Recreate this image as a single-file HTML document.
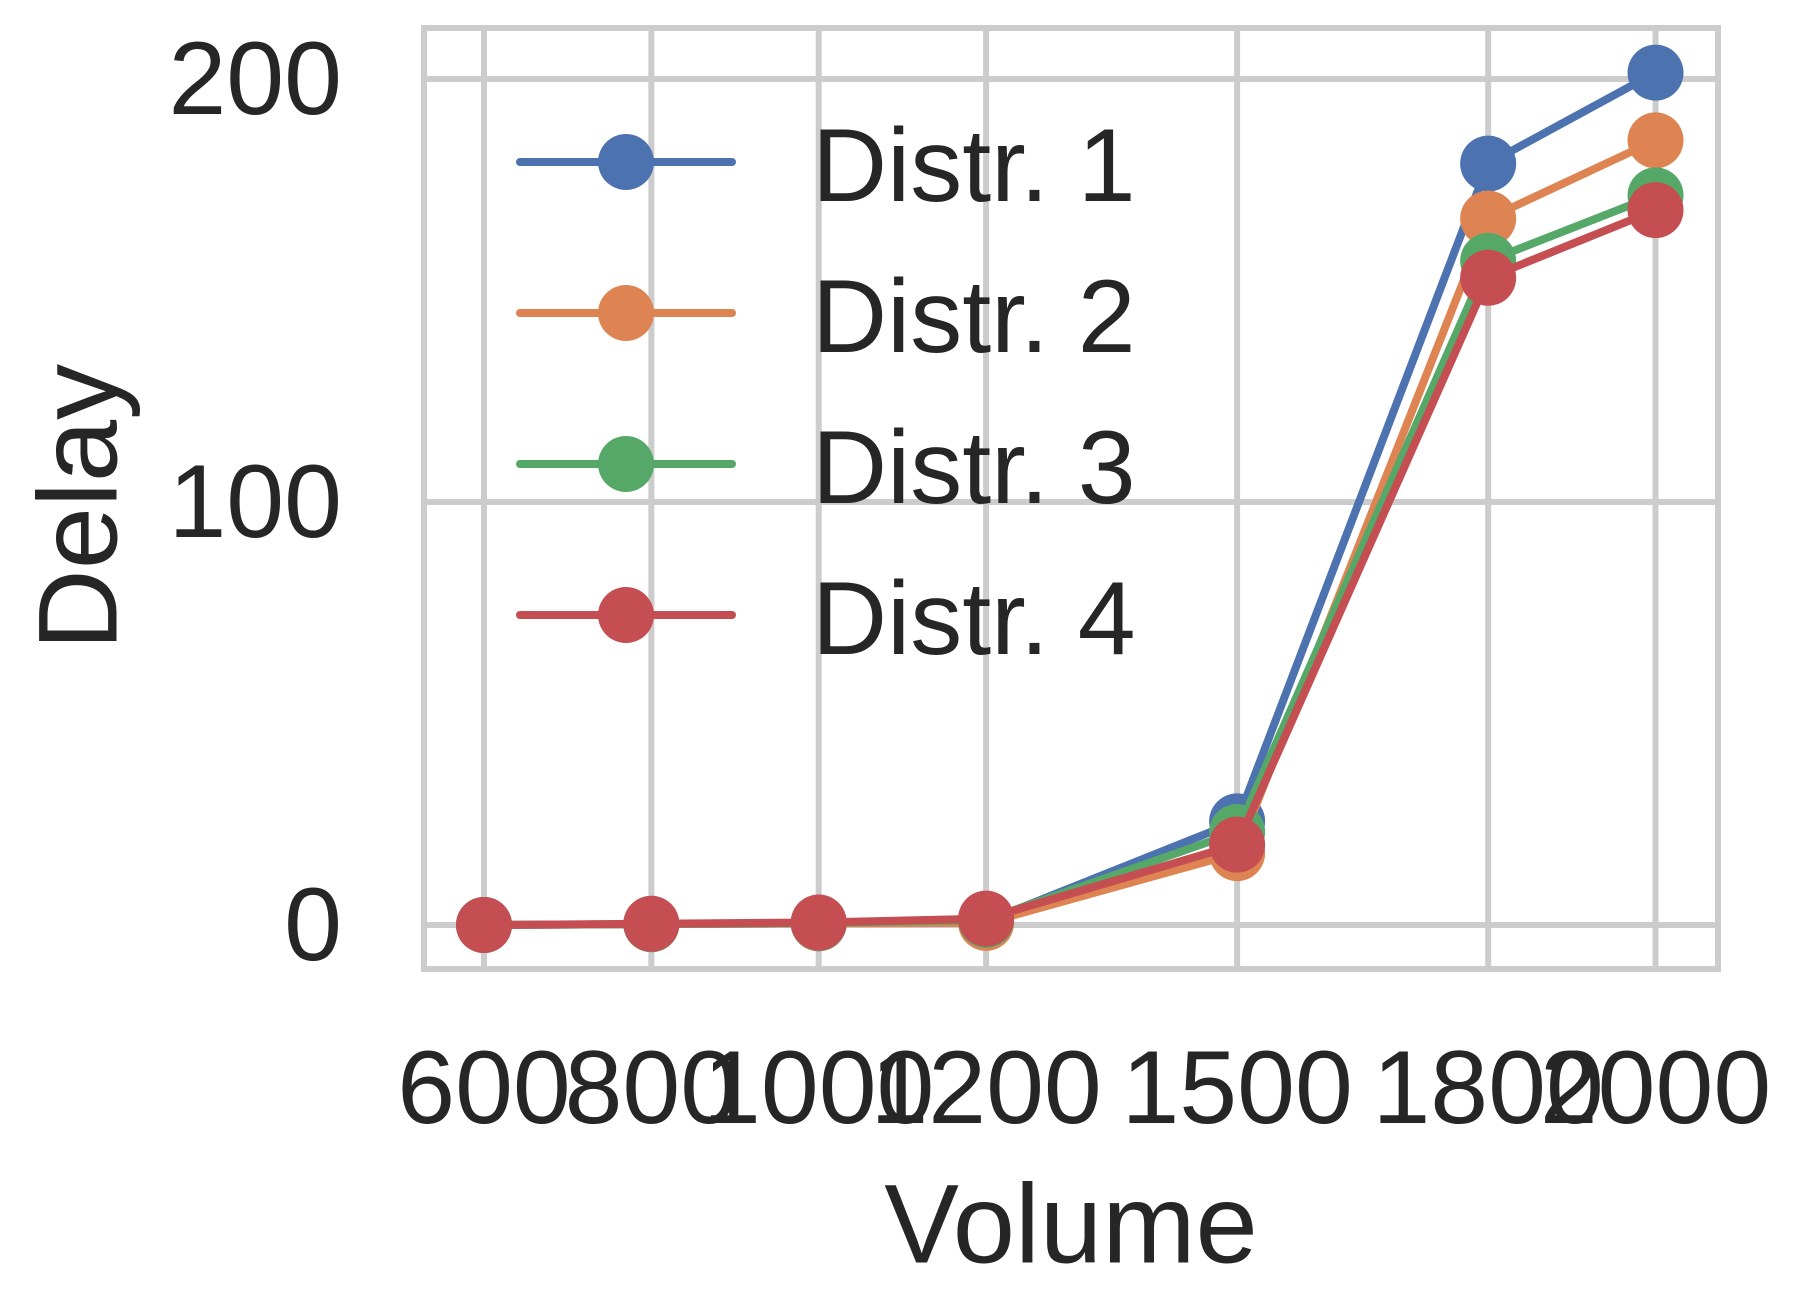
<!DOCTYPE html>
<html><head><meta charset="utf-8"><style>
html,body{margin:0;padding:0;background:#fff;}
svg{display:block;font-family:"Liberation Sans",Arial,sans-serif;}
</style></head><body>
<svg id="chart" width="1802" height="1311" viewBox="0 0 1802 1311">
<rect x="0" y="0" width="1802" height="1311" fill="#fff"/>
<g id="grid"></g>
<rect x="424" y="28" width="1294" height="941" fill="none" stroke="#cccccc" stroke-width="6"/>
<g id="series"></g>
<g id="ticks"></g>
<g id="legend"></g>
<text x="1071" y="1224" font-size="112" fill="#262626" text-anchor="middle" dominant-baseline="central">Volume</text>
<text x="0" y="0" font-size="112" fill="#262626" text-anchor="middle" dominant-baseline="central" transform="translate(78,507) rotate(-90)">Delay</text>
</svg>
<script>
const categories = [600, 800, 1000, 1200, 1500, 1800, 2000];
const distr1 = [0, 0.2, 0.4, 0.8, 24.5, 180, 201.5];
const distr2 = [0, 0.2, 0.4, 0.5, 17, 167, 185.5];
const distr3 = [0, 0.2, 0.5, 1.2, 22, 157, 172.5];
const distr4 = [0, 0.3, 0.6, 1.5, 19, 153, 169];
const seriesNames = ["Distr. 1", "Distr. 2", "Distr. 3", "Distr. 4"];
const yTicks = [0, 100, 200];
const xTickLabels = ["600", "800", "1000", "1200", "1500", "1800", "2000"];

const colors = ["#4c72b0", "#dd8452", "#55a868", "#c44e52"];
const NS = "http://www.w3.org/2000/svg";
function xs(v){ return 484 + (v - 600) * 0.8368; }
function ys(v){ return 925 - v * 4.23; }
function mk(tag, attrs, parent){
  const e = document.createElementNS(NS, tag);
  for (const k in attrs) e.setAttribute(k, attrs[k]);
  parent.appendChild(e);
  return e;
}
const grid = document.getElementById('grid');
const ticks = document.getElementById('ticks');
categories.forEach((c, i) => {
  const l = mk('line', {x1: xs(c), x2: xs(c), y1: 28, y2: 969, stroke: '#cccccc', 'stroke-width': 6}, grid);
  
  
  const t = mk('text', {x: xs(c), y: 1088, 'font-size': 104, fill: '#262626', 'text-anchor': 'middle', 'dominant-baseline': 'central'}, ticks);
  t.textContent = xTickLabels[i];
  
  
});
yTicks.forEach(v => {
  const l = mk('line', {x1: 424, x2: 1718, y1: ys(v), y2: ys(v), stroke: '#cccccc', 'stroke-width': 6}, grid);
  
  
  const t = mk('text', {x: 342, y: ys(v), 'font-size': 104, fill: '#262626', 'text-anchor': 'end', 'dominant-baseline': 'central'}, ticks);
  t.textContent = String(v);
  
  
});
const series = document.getElementById('series');
const allData = [distr1, distr2, distr3, distr4];
allData.forEach((d, si) => {
  const g = mk('g', {}, series);
  
  
  const pts = d.map((v, i) => xs(categories[i]) + ',' + ys(v)).join(' ');
  const pl = mk('polyline', {points: pts, fill: 'none', stroke: colors[si], 'stroke-width': 8, 'stroke-linejoin': 'round', 'stroke-linecap': 'round'}, g);
  
  
  d.forEach((v, i) => {
    const c = mk('circle', {cx: xs(categories[i]), cy: ys(v), r: 28, fill: colors[si]}, g);
    
    
  });
});
const legend = document.getElementById('legend');


seriesNames.forEach((n, i) => {
  const y = 162 + i * 151;
  const g = mk('g', {}, legend);
  
  
  mk('line', {x1: 520, x2: 732, y1: y, y2: y, stroke: colors[i], 'stroke-width': 8, 'stroke-linecap': 'round'}, g);
  mk('circle', {cx: 626, cy: y, r: 28, fill: colors[i]}, g);
  const t = mk('text', {x: 812, y: y + 4, 'font-size': 104, fill: '#262626', 'dominant-baseline': 'central'}, g);
  t.textContent = n;
});
</script>
</body></html>
